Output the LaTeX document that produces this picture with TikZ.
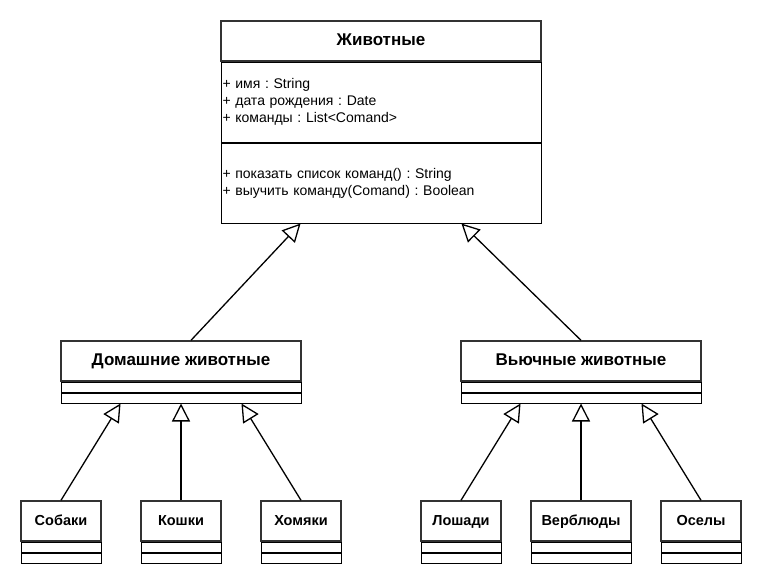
\documentclass[tikz,border=0pt]{standalone}
\usepackage{fontspec}
\setmainfont{Liberation Sans}
\usetikzlibrary{arrows.meta, positioning}
\frenchspacing

\tikzset{
  classhead/.style={draw=black!80, line width=1.4pt, inner sep=0pt,
    minimum width=#1, minimum height=40pt, text height=0.82em, text depth=0pt,
    font=\bfseries\fontsize{14.5}{16}\selectfont},
  slot/.style={draw, line width=0.9pt, inner sep=0pt, minimum width=#1,
    minimum height=10pt},
  members/.style={draw, line width=0.9pt, inner xsep=1.5pt, inner ysep=0pt,
    text width=317pt, minimum height=80pt, align=left,
    font=\fontsize{14}{17}\selectfont},
  inherit/.style={-{Triangle[open, length=18pt, width=18pt, line width=1.3pt]},
    line width=1.3pt}
}

\begin{document}
\begin{tikzpicture}[x=1pt, y=-1pt]
  \useasboundingbox (0,0) rectangle (762,582);

  % === базовый класс ===
  \node[classhead=320pt, font=\bfseries\fontsize{17}{19}\selectfont] (zhiv) at (381,41) {Животные};
  \node[members, below=0pt of zhiv] (zhivattr)
    {+ имя : String\\+ дата рождения : Date\\+ команды : List<Comand>};
  \node[members, below=0pt of zhivattr] (zhivops)
    {+ показать список команд() : String\\+ выучить команду(Comand) : Boolean};

  % === второй уровень ===
  \node[classhead=240pt, font=\bfseries\fontsize{17}{19}\selectfont] (dom) at (181,361) {Домашние животные};
  \node[slot=240pt, below=0pt of dom] (domup) {};
  \node[slot=240pt, below=0pt of domup] (domlow) {};

  \node[classhead=240pt, font=\bfseries\fontsize{17}{19}\selectfont] (vyuch) at (581,361) {Вьючные животные};
  \node[slot=240pt, below=0pt of vyuch] (vyuchup) {};
  \node[slot=240pt, below=0pt of vyuchup] (vyuchlow) {};

  % === третий уровень ===
  \foreach \name/\x/\w/\txt in {sobaki/61/80/Собаки, koshki/181/80/Кошки,
      khomyaki/301/80/Хомяки, loshadi/461/80/Лошади,
      verblyudy/581/100/Верблюды, osely/701/80/Оселы}{
    \node[classhead=\w pt] (\name) at (\x,521) {\txt};
    \node[slot=\w pt, below=0pt of \name] (\name up) {};
    \node[slot=\w pt, below=0pt of \name up] (\name low) {};
  }

  % === наследование ===
  \draw[inherit] ([xshift=10pt]dom.north) -- ([xshift=80pt]zhivops.south west);
  \draw[inherit] (vyuch.north) -- ([xshift=-80pt]zhivops.south east);

  \draw[inherit] (sobaki.north) -- ([xshift=60pt]domlow.south west);
  \draw[inherit] (koshki.north) -- (domlow.south);
  \draw[inherit] (khomyaki.north) -- ([xshift=-60pt]domlow.south east);

  \draw[inherit] (loshadi.north) -- ([xshift=60pt]vyuchlow.south west);
  \draw[inherit] (verblyudy.north) -- (vyuchlow.south);
  \draw[inherit] (osely.north) -- ([xshift=-60pt]vyuchlow.south east);
\end{tikzpicture}
\end{document}
